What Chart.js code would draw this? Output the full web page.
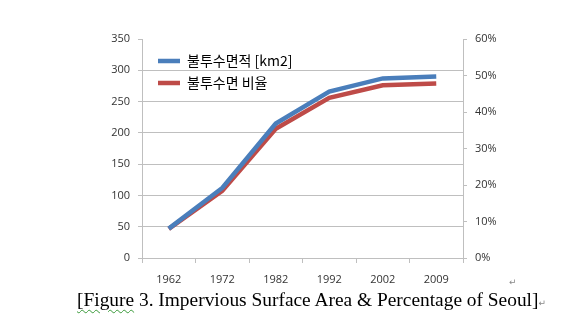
<!DOCTYPE html>
<html>
<head>
<meta charset="utf-8">
<script src="https://cdn.jsdelivr.net/npm/chart.js@4"></script>
<style>
  html, body { margin: 0; padding: 0; background: #fff; }
  #wrap { position: relative; width: 587px; height: 327px; overflow: hidden; }
  #chart { position: absolute; left: 0; top: 0; }
  .caption {
    position: absolute; left: 77px; top: 289px;
    font-family: "Liberation Serif", "Times New Roman", serif;
    font-size: 19.4px; color: #000; white-space: nowrap;
  }
  .caption .sp { text-decoration: underline wavy #3a9a3a; text-decoration-thickness: 1px; text-underline-offset: 3px; }
  .mark { color: #888; font-family: "DejaVu Sans", sans-serif; font-size: 9px; }
  #ret1 { position: absolute; left: 509px; top: 277px; }
</style>
</head>
<body>
<div id="wrap">
  <canvas id="chart" width="587" height="327"></canvas>
  <span id="ret1" class="mark">↵</span>
  <div class="caption"><span class="sp">[Figure</span> 3. Impervious Surface Area &amp; Percentage of Seoul]<span class="mark">↵</span></div>
</div>
<script>
// Seoul impervious surface, by survey year
const years = ['1962', '1972', '1982', '1992', '2002', '2009'];
const areaKm2 = [47, 112, 215, 266, 287, 290];
const ratioPct = [8.0, 18.4, 35.4, 43.9, 47.3, 47.8];

const leftTicks = [0, 50, 100, 150, 200, 250, 300, 350];
const rightTicks = [0, 10, 20, 30, 40, 50, 60];

const tickFont = { family: '"Open Sans", "Noto Sans", sans-serif', size: 11 };
const axisColor = '#bfbfbf';

// keep the legend box inside the plot, a little below its top-left corner
const legendInPlot = {
  id: 'legendInPlot',
  afterLayout(chart) {
    const lg = chart.legend;
    if (!lg) return;
    const w = lg.width, h = lg.height;
    lg.left = chart.chartArea.left + 8;
    lg.top = chart.chartArea.top + 7;
    lg.right = lg.left + w;
    lg.bottom = lg.top + h;
  }
};

const ctx = document.getElementById('chart').getContext('2d');

new Chart(ctx, {
  type: 'line',
  data: {
    labels: years,
    datasets: [
      {
        label: '불투수면적 [km2]',
        data: areaKm2,
        yAxisID: 'y',
        borderColor: '#4A7EBB',
        backgroundColor: '#4A7EBB',
        borderWidth: 4.5,
        pointRadius: 0,
        tension: 0
      },
      {
        label: '불투수면 비율',
        data: ratioPct,
        yAxisID: 'y1',
        borderColor: '#BE4B48',
        backgroundColor: '#BE4B48',
        borderWidth: 4.5,
        pointRadius: 0,
        tension: 0
      }
    ]
  },
  options: {
    responsive: false,
    animation: false,
    layout: { padding: { top: 39, left: 0, right: 0, bottom: 0 } },
    plugins: {
      tooltip: { enabled: false },
      legend: {
        position: 'chartArea',
        align: 'start',
        labels: {
          usePointStyle: true,
          pointStyle: 'line',
          pointStyleWidth: 22,
          boxHeight: 14,
          padding: 8,
          color: '#000',
          font: { family: '"Noto Sans CJK KR", sans-serif', size: 14 }
        }
      }
    },
    scales: {
      x: {
        offset: true,
        border: { color: axisColor },
        grid: { offset: true, drawOnChartArea: false, drawTicks: true, tickLength: 5, color: axisColor },
        ticks: { color: '#333', font: tickFont, padding: 10, maxRotation: 0 },
        afterFit: (scale) => { scale.height = 327 - 258; }
      },
      y: {
        position: 'left',
        min: 0,
        max: 350,
        afterBuildTicks: (scale) => { scale.ticks = leftTicks.map(v => ({ value: v })); },
        border: { color: axisColor },
        grid: {
          color: (c) => (c.tick && (c.tick.value === 350) ? 'rgba(0,0,0,0)' : axisColor),
          tickColor: axisColor,
          tickLength: 4
        },
        ticks: { color: '#333', font: tickFont, padding: 8 },
        afterFit: (scale) => { scale.width = 142; }
      },
      y1: {
        position: 'right',
        min: 0,
        max: 60,
        afterBuildTicks: (scale) => { scale.ticks = rightTicks.map(v => ({ value: v })); },
        border: { color: axisColor },
        grid: { drawOnChartArea: false, color: axisColor, tickLength: 4 },
        ticks: { color: '#333', font: tickFont, padding: 8, callback: (v) => v + '%' },
        afterFit: (scale) => { scale.width = 587 - 463; }
      }
    }
  },
  plugins: [legendInPlot]
});
</script>
</body>
</html>
